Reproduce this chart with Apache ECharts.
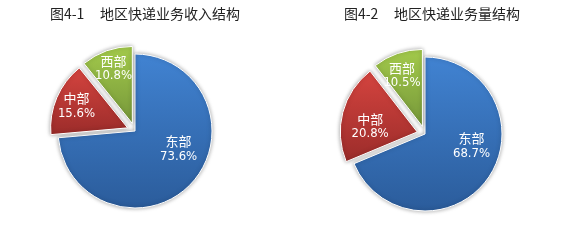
<!DOCTYPE html>
<html>
<head>
<meta charset="utf-8">
<script src="https://cdn.jsdelivr.net/npm/echarts@6/dist/echarts.min.js"></script>
<style>
  html, body { margin: 0; padding: 0; background: #fff; }
  #chart { width: 588px; height: 248px; }
</style>
</head>
<body>
<div id="chart"></div>
<script>
// 地区
const regions = ['东部', '中部', '西部']
// 图4-1 收入结构 (%)
const incomeShare = [73.6, 15.6, 10.8]
// 图4-2 业务量结构 (%)
const volumeShare = [68.7, 20.8, 10.5]
const titles = ['图4-1     地区快递业务收入结构', '图4-2     地区快递业务量结构']

// 每个区域的渐变色 [上, 下]
const regionColors = [
  ['#4183d2', '#2b5c9b'],
  ['#d5443f', '#9b2c2a'],
  ['#a3ca4b', '#76973a']
]
// 标签微调 (dx, dy)
const labelShift = [
  [[13, -10], [-13, -6], [-5, -16]],
  [[12, -11], [-7, 5], [-7, -12]]
]

function grad (c) {
  return new echarts.graphic.LinearGradient(0, 0, 0, 1, [
    { offset: 0, color: c[0] },
    { offset: 1, color: c[1] }
  ])
}

function buildData (values) {
  return regions.map((name, i) => ({
    name: name,
    value: values[i],
    selected: i > 0,
    itemStyle: { color: grad(regionColors[i]) }
  }))
}

function pieSeries (values, idx, center) {
  return {
    type: 'pie',
    center: center,
    radius: 77,
    startAngle: 90,
    clockwise: true,
    selectedMode: 'multiple',
    selectedOffset: 8,
    silent: true,
    itemStyle: {
      borderColor: '#fff',
      borderWidth: 1,
      shadowBlur: 4,
      shadowColor: 'rgba(0,0,0,0.35)'
    },
    label: {
      position: 'inside',
      formatter: p => '{n|' + p.name + '}\n{v|' + p.value.toFixed(1) + '%}',
      rich: {
        n: { fontFamily: 'Noto Sans CJK SC', fontSize: 13, color: '#fff', lineHeight: 15 },
        v: { fontFamily: '"DejaVu Sans Condensed", "DejaVu Sans"', fontSize: 13, color: '#fff', lineHeight: 15 }
      }
    },
    labelLayout: p => {
      const s = labelShift[idx][p.dataIndex]
      return { dx: s[0], dy: s[1] }
    },
    labelLine: { show: false },
    data: buildData(values)
  }
}

const chart = echarts.init(document.getElementById('chart'))
const titleStyle = { fontFamily: 'Noto Sans CJK SC', fontSize: 14, fontWeight: 'normal', color: '#222' }
chart.setOption({
  animation: false,
  title: [
    { text: titles[0], left: 140, top: 2, textAlign: 'center', textStyle: titleStyle },
    { text: titles[1], left: 427, top: 2, textAlign: 'center', textStyle: titleStyle }
  ],
  series: [
    pieSeries(incomeShare, 0, [135, 131]),
    pieSeries(volumeShare, 1, [425, 134])
  ]
})
</script>
</body>
</html>
